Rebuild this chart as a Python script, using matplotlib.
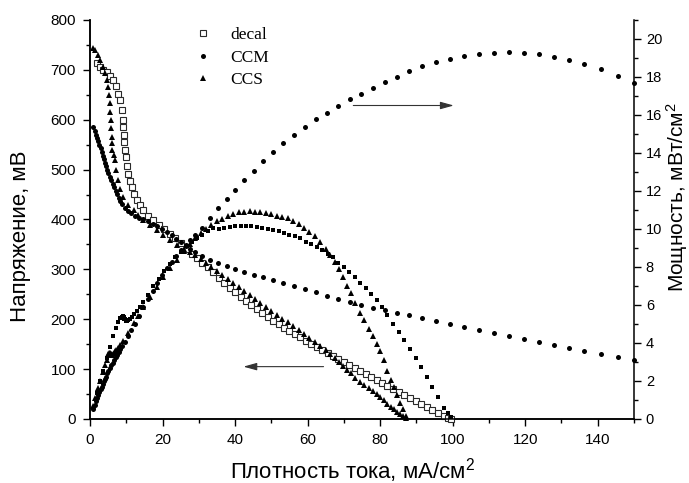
import matplotlib
matplotlib.use('Agg')
import matplotlib.pyplot as plt
from matplotlib.ticker import MultipleLocator

plt.rcParams['font.family'] = ['Liberation Sans', 'DejaVu Sans']
plt.rcParams['mathtext.fontset'] = 'custom'
plt.rcParams['mathtext.rm'] = 'Liberation Sans'
plt.rcParams['mathtext.it'] = 'Liberation Sans:italic'

# ---------------- data ----------------
series_names = ['decal', 'CCM', 'CCS']

decal_x = [1.9, 2.8, 3.6, 4.6, 5.5, 6.4, 7.2, 7.8, 8.3, 8.7,
           9.0, 9.2, 9.4, 9.5, 9.7, 9.8, 10.2, 10.6, 11.0, 11.5,
           12.2, 12.9, 13.8, 14.7, 16.0, 17.5, 19.0, 20.5, 22.0, 23.5,
           25.0, 26.7, 28.2, 29.6, 31.0, 32.5, 34.0, 35.5, 37.0, 38.5,
           40.0, 41.5, 43.0, 44.5, 46.0, 47.5, 49.0, 50.5, 52.0, 53.5,
           55.0, 56.5, 58.0, 59.5, 61.0, 62.5, 64.0, 65.5, 67.0, 68.5,
           70.0, 71.5, 73.0, 74.5, 76.0, 77.5, 79.0, 80.5, 82.0, 83.6,
           85.2, 86.6, 88.2, 89.8, 91.3, 92.8, 94.4, 95.9, 97.6, 98.6,
           99.5]
decal_v = [713, 706, 700, 696, 688, 680, 668, 652, 640, 620,
           600, 585, 570, 555, 540, 525, 508, 492, 478, 466,
           452, 440, 429, 419, 408, 399, 389, 380, 371, 362,
           352, 340, 331, 322, 313, 304, 295, 282, 272, 263,
           254, 245, 236, 228, 220, 212, 204, 197, 190, 183,
           176, 170, 164, 157, 151, 145, 139, 133, 127, 120,
           114, 108, 102, 96, 91, 85, 79, 73, 67, 60,
           54, 48, 42, 36, 30, 24, 18, 12, 6, 3,
           1]
decal_p = [1.35, 1.98, 2.52, 3.20, 3.78, 4.35, 4.81, 5.09, 5.31, 5.39,
           5.40, 5.38, 5.36, 5.27, 5.24, 5.15, 5.18, 5.22, 5.26, 5.36,
           5.51, 5.68, 5.92, 6.16, 6.53, 6.98, 7.39, 7.79, 8.16, 8.51,
           8.80, 9.08, 9.33, 9.53, 9.70, 9.88, 10.03, 10.01, 10.06, 10.13,
           10.16, 10.17, 10.15, 10.15, 10.12, 10.07, 10.00, 9.95, 9.88, 9.79,
           9.68, 9.61, 9.51, 9.34, 9.21, 9.06, 8.90, 8.71, 8.51, 8.22,
           7.98, 7.72, 7.45, 7.15, 6.92, 6.59, 6.24, 5.88, 5.49, 5.02,
           4.60, 4.16, 3.70, 3.23, 2.74, 2.23, 1.70, 1.15, 0.59, 0.30,
           0.10]

ccm_x = [0.9, 1.3, 1.7, 2.0, 2.3, 2.6, 2.9, 3.2, 3.5, 3.8,
         4.1, 4.4, 4.8, 5.1, 5.5, 5.9, 6.3, 6.7, 7.1, 7.5,
         7.9, 8.4, 8.9, 9.6, 10.4, 11.3, 12.3, 13.4, 14.7, 16.0,
         17.3, 18.6, 19.9, 21.2, 22.5, 23.8, 25.1, 26.4, 27.7, 29.0,
         30.8, 33.1, 35.4, 37.7, 40.1, 42.6, 45.1, 47.8, 50.5, 53.3,
         56.2, 59.2, 62.2, 65.3, 68.4, 71.6, 74.8, 78.1, 81.4, 84.6,
         88.0, 91.6, 95.3, 99.3, 103.2, 107.3, 111.4, 115.5, 119.7, 123.8,
         128.0, 132.1, 136.3, 140.8, 145.6, 150.0]
ccm_v = [586, 578, 570, 563, 557, 550, 543, 535, 528, 521,
         514, 507, 500, 493, 486, 479, 472, 465, 458, 451,
         444, 437, 431, 424, 418, 413, 408, 404, 400, 396,
         391, 386, 380, 374, 368, 361, 354, 347, 340, 334,
         326, 319, 313, 307, 301, 295, 289, 284, 278, 272,
         266, 260, 254, 247, 241, 235, 229, 223, 218, 213,
         208, 203, 197, 191, 185, 179, 173, 167, 161, 155,
         149, 143, 137, 131, 124, 118]
ccm_p = [0.53, 0.75, 0.97, 1.13, 1.28, 1.43, 1.57, 1.71, 1.85, 1.98,
         2.11, 2.23, 2.40, 2.51, 2.67, 2.83, 2.97, 3.12, 3.25, 3.38,
         3.51, 3.67, 3.84, 4.07, 4.35, 4.67, 5.02, 5.41, 5.88, 6.34,
         6.76, 7.18, 7.56, 7.93, 8.28, 8.59, 8.89, 9.16, 9.42, 9.69,
         10.04, 10.56, 11.08, 11.57, 12.07, 12.57, 13.03, 13.58, 14.04, 14.50,
         14.95, 15.39, 15.80, 16.13, 16.48, 16.83, 17.13, 17.42, 17.75, 18.02,
         18.30, 18.59, 18.77, 18.97, 19.09, 19.21, 19.27, 19.29, 19.27, 19.19,
         19.07, 18.89, 18.67, 18.44, 18.05, 17.70]

ccs_x = [0.9, 1.5, 2.2, 2.8, 3.5, 4.1, 4.6, 5.1, 5.3, 5.5,
         5.6, 5.7, 5.85, 6.0, 6.1, 6.2, 6.5, 6.9, 7.3, 7.8,
         8.4, 9.2, 10.5, 12.0, 13.3, 14.7, 16.5, 18.4, 20.2, 22.1,
         24.0, 26.0, 27.5, 29.0, 30.5, 32.0, 33.5, 35.0, 36.5, 38.0,
         39.5, 41.0, 42.5, 44.0, 45.5, 47.0, 48.5, 50.0, 51.5, 53.0,
         54.5, 56.0, 57.5, 59.0, 60.5, 62.0, 63.5, 65.0, 66.3, 67.5,
         68.7, 69.8, 70.9, 72.1, 73.2, 74.4, 75.6, 76.8, 77.9, 79.0,
         80.0, 81.0, 82.0, 82.9, 83.8, 84.7, 85.6, 86.4, 87.2]
ccs_v = [743, 740, 730, 719, 706, 693, 680, 666, 650, 633,
         616, 599, 583, 566, 553, 540, 530, 519, 500, 479,
         462, 445, 430, 419, 409, 399, 389, 379, 369, 359,
         349, 340, 335, 328, 321, 313, 305, 297, 289, 281,
         273, 265, 257, 249, 240, 232, 224, 216, 208, 201,
         194, 186, 178, 170, 163, 155, 147, 138, 130, 122,
         115, 107, 99, 92, 83, 75, 69, 62, 56, 50,
         45, 38, 31, 25, 20, 15, 10, 6, 2]
ccs_p = [0.67, 1.11, 1.61, 2.01, 2.47, 2.84, 3.13, 3.40, 3.45, 3.48,
         3.45, 3.41, 3.41, 3.40, 3.37, 3.35, 3.45, 3.58, 3.65, 3.74,
         3.88, 4.09, 4.52, 5.03, 5.44, 5.87, 6.42, 6.97, 7.45, 7.93,
         8.38, 8.84, 9.21, 9.51, 9.79, 10.02, 10.22, 10.40, 10.55, 10.68,
         10.78, 10.87, 10.92, 10.96, 10.92, 10.90, 10.86, 10.80, 10.71, 10.65,
         10.57, 10.42, 10.24, 10.03, 9.86, 9.61, 9.33, 8.97, 8.62, 8.24,
         7.90, 7.47, 7.02, 6.63, 6.08, 5.58, 5.22, 4.76, 4.36, 3.95,
         3.60, 3.08, 2.54, 2.07, 1.68, 1.27, 0.86, 0.52, 0.17]

xlabel = 'Плотность тока, мА/см$^2$'
ylabel_left = 'Напряжение, мВ'
ylabel_right = 'Мощность, мВт/см$^2$'

# ---------------- figure ----------------
fig = plt.figure(figsize=(6.89, 4.83), dpi=100)
ax = fig.add_axes([90/689, 64/483, 544/689, 399/483])
ax2 = ax.twinx()

# voltage (left axis)
h_decal, = ax.plot(decal_x, decal_v, ls='none', marker='s', ms=5.0, mfc='white',
                   mec='#2a2a2a', mew=0.8, clip_on=False, zorder=3)
h_ccm, = ax.plot(ccm_x, ccm_v, ls='none', marker='o', ms=3.6, mfc='black',
                 mec='black', mew=0, clip_on=False, zorder=3)
h_ccs, = ax.plot(ccs_x, ccs_v, ls='none', marker='^', ms=4.8, mfc='black',
                 mec='black', mew=0, clip_on=False, zorder=3)

# power (right axis)
ax2.plot(decal_x, decal_p, ls='none', marker='s', ms=3.1, mfc='black',
         mec='black', mew=0, clip_on=False)
ax2.plot(ccm_x, ccm_p, ls='none', marker='o', ms=3.6, mfc='black',
         mec='black', mew=0, clip_on=False)
ax2.plot(ccs_x, ccs_p, ls='none', marker='^', ms=4.8, mfc='black',
         mec='black', mew=0, clip_on=False)

# axes limits / ticks
ax.set_xlim(0, 150)
ax.set_ylim(0, 800)
ax2.set_ylim(0, 21)
ax.xaxis.set_major_locator(MultipleLocator(20))
ax.xaxis.set_minor_locator(MultipleLocator(10))
ax.yaxis.set_major_locator(MultipleLocator(100))
ax.yaxis.set_minor_locator(MultipleLocator(50))
ax2.yaxis.set_major_locator(MultipleLocator(2))
ax2.yaxis.set_minor_locator(MultipleLocator(1))

for a in (ax, ax2):
    a.spines['top'].set_visible(False)
    for s in a.spines.values():
        s.set_linewidth(1.1)
ax.spines['right'].set_visible(False)

ax.tick_params(axis='x', which='both', direction='out', top=False, width=1.0, labelsize=11, pad=5)
ax.tick_params(axis='y', which='both', direction='out', right=False, width=1.0, labelsize=11, pad=5)
ax2.tick_params(axis='y', which='both', direction='out', width=1.0, labelsize=10.5, pad=3.5)
for a in (ax, ax2):
    a.tick_params(which='major', length=5)
    a.tick_params(which='minor', length=3)

# labels
ax.set_xlabel(xlabel, fontsize=16)
ax.xaxis.set_label_coords(0.483, -0.128)
ax.xaxis.label.set_va('center')
ax.set_ylabel(ylabel_left, fontsize=16)
ax.yaxis.set_label_coords(-0.127, 0.459)
ax.yaxis.label.set_va('center')
ax2.set_ylabel(ylabel_right, fontsize=15)
ax2.yaxis.set_label_coords(1.079, 0.556)
ax2.yaxis.label.set_va('center')

# arrows
arrow_kw = dict(arrowstyle='-|>,head_length=0.9,head_width=0.25', color='#333333',
                lw=0.8, mutation_scale=9, shrinkA=0, shrinkB=0)
ax.annotate('', xy=(42.3, 105), xytext=(64.4, 105), arrowprops=arrow_kw)
ax2.annotate('', xy=(100.3, 16.5), xytext=(72.6, 16.5), arrowprops=arrow_kw)

# legend
leg = ax2.legend([h_decal, h_ccm, h_ccs], series_names, loc='upper left',
                 bbox_to_anchor=(194/689, 1 - 27/483), bbox_transform=fig.transFigure,
                 frameon=False, prop={'family': 'Liberation Serif', 'size': 12.5},
                 handlelength=1.0, handletextpad=1.1, labelspacing=0.37,
                 borderpad=0, borderaxespad=0, numpoints=1)

fig.savefig('out.png', dpi=100)
